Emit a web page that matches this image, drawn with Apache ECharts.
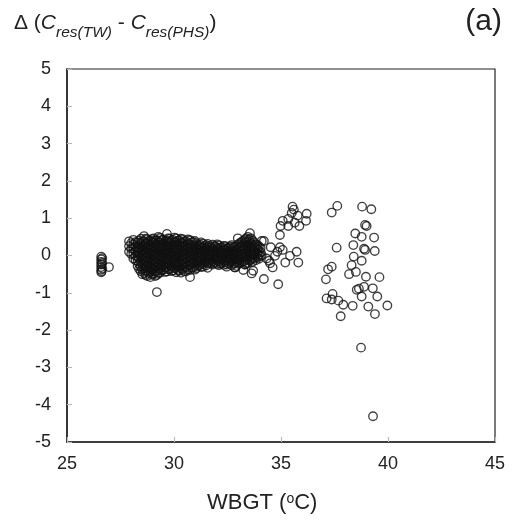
<!DOCTYPE html>
<html>
<head>
<meta charset="utf-8">
<script src="https://cdn.jsdelivr.net/npm/echarts@6/dist/echarts.min.js"></script>
<style>html,body{margin:0;padding:0;background:#fff}#c{width:513px;height:520px}</style>
</head>
<body>
<div id="c"></div>
<script>
// ---- axis settings ----
var xMin = 25, xMax = 45, xStep = 5;
var yMin = -5, yMax = 5, yStep = 1;
var xAxisTitle = 'WBGT (';
var panelLabel = '(a)';

// ---- group near 26.6 °C ----
var lowGroupX = [26.6, 26.6, 26.6, 26.6, 26.6, 26.6, 26.6, 26.65, 26.65, 26.65, 26.62, 26.96];
var lowGroupY = [-0.03, -0.1, -0.17, -0.24, -0.31, -0.38, -0.45, -0.07, -0.2, -0.35, -0.42, -0.31];

// ---- dense band 28-34 °C (column x, column y values) ----
var bandX = [27.9, 28.1, 28.3, 28.45, 28.6, 28.75, 28.9, 29.05, 29.2, 29.35, 29.5, 29.67, 29.8, 29.95,
  30.1, 30.25, 30.4, 30.55, 30.75, 30.9, 31.05, 31.2, 31.35, 31.5, 31.65, 31.8, 31.95, 32.1, 32.25,
  32.4, 32.55, 32.7, 32.85, 33.0, 33.15, 33.3, 33.45, 33.6, 33.75, 33.9, 34.05];
var bandY = [
  [0.38, 0.25, 0.1],
  [0.42, 0.3, 0.18, 0.05, -0.08],
  [0.35, 0.22, 0.12, -0.02, -0.15, -0.28],
  [0.45, 0.31, 0.2, 0.08, -0.05, -0.18, -0.3, -0.42],
  [0.52, 0.38, 0.26, 0.14, 0.03, -0.1, -0.22, -0.35, -0.47],
  [0.44, 0.33, 0.21, 0.09, -0.04, -0.16, -0.27, -0.4, -0.55],
  [0.4, 0.29, 0.17, 0.06, -0.06, -0.19, -0.31, -0.44, -0.58],
  [0.46, 0.34, 0.23, 0.11, 0.0, -0.12, -0.25, -0.37, -0.49],
  [0.41, 0.3, 0.18, 0.07, -0.05, -0.17, -0.29, -0.41, -0.52, -0.98],
  [0.47, 0.35, 0.24, 0.13, 0.02, -0.1, -0.22, -0.34, -0.46],
  [0.43, 0.32, 0.2, 0.09, -0.03, -0.14, -0.26, -0.38],
  [0.58, 0.4, 0.28, 0.16, 0.05, -0.07, -0.19, -0.31, -0.43],
  [0.45, 0.34, 0.22, 0.11, 0.0, -0.12, -0.24, -0.36],
  [0.42, 0.3, 0.18, 0.07, -0.05, -0.16, -0.28, -0.4],
  [0.46, 0.35, 0.24, 0.12, 0.01, -0.1, -0.22, -0.33, -0.45],
  [0.4, 0.29, 0.17, 0.06, -0.06, -0.18, -0.3, -0.41],
  [0.44, 0.33, 0.21, 0.1, -0.02, -0.13, -0.25, -0.37],
  [0.38, 0.27, 0.15, 0.04, -0.08, -0.2, -0.32, -0.43],
  [0.41, 0.3, 0.19, 0.08, -0.04, -0.15, -0.27, -0.39, -0.58],
  [0.36, 0.25, 0.13, 0.02, -0.1, -0.21, -0.33],
  [0.33, 0.22, 0.11, 0.0, -0.11, -0.22, -0.34],
  [0.3, 0.19, 0.08, -0.03, -0.14, -0.26],
  [0.32, 0.2, 0.1, -0.01, -0.12, -0.23, -0.3],
  [0.28, 0.17, 0.06, -0.05, -0.16, -0.27],
  [0.26, 0.15, 0.04, -0.06, -0.17],
  [0.29, 0.18, 0.07, -0.04, -0.15, -0.24],
  [0.24, 0.13, 0.03, -0.08, -0.19],
  [0.27, 0.16, 0.05, -0.06, -0.16, -0.26],
  [0.22, 0.12, 0.02, -0.09, -0.2],
  [0.25, 0.14, 0.04, -0.07, -0.18],
  [0.2, 0.1, 0.0, -0.1, -0.21],
  [0.28, 0.17, 0.06, -0.05, -0.16, -0.26],
  [0.23, 0.12, 0.02, -0.09, -0.2, -0.32],
  [0.3, 0.19, 0.08, -0.03, -0.12, -0.22],
  [0.36, 0.24, 0.13, 0.03, -0.07, -0.18],
  [0.42, 0.3, 0.18, 0.07, -0.04, -0.15, -0.24],
  [0.5, 0.38, 0.26, 0.14, 0.03, -0.08, -0.2],
  [0.46, 0.33, 0.21, 0.1, 0.0, -0.11],
  [0.35, 0.22, 0.12, 0.02, -0.09],
  [0.28, 0.17, 0.06, -0.05],
  [0.2, 0.09, -0.02]
];

// ---- second, interleaved set of columns in the dense band ----
var band2X = [28.0, 28.2, 28.37, 28.52, 28.68, 28.82, 28.97, 29.12, 29.27, 29.42, 29.58, 29.73, 29.88,
  30.02, 30.17, 30.32, 30.47, 30.65, 30.82, 30.97, 31.12, 31.27, 31.42, 31.57, 31.72, 31.87, 32.02,
  32.17, 32.32, 32.47, 32.62, 32.77, 32.92, 33.07, 33.22, 33.37, 33.52, 33.67, 33.82, 33.97];
var band2Y = [
  [0.33, 0.19, 0.04],
  [0.36, 0.24, 0.11, -0.01, -0.13],
  [0.4, 0.28, 0.16, 0.04, -0.09, -0.22, -0.36],
  [0.37, 0.25, 0.14, 0.02, -0.11, -0.24, -0.37, -0.5],
  [0.45, 0.32, 0.2, 0.08, -0.04, -0.16, -0.29, -0.42, -0.52],
  [0.39, 0.27, 0.15, 0.03, -0.1, -0.22, -0.34, -0.47],
  [0.44, 0.35, 0.23, 0.12, 0.0, -0.13, -0.25, -0.38, -0.51],
  [0.4, 0.28, 0.17, 0.05, -0.06, -0.18, -0.31, -0.43, -0.55],
  [0.5, 0.36, 0.24, 0.13, 0.01, -0.11, -0.23, -0.35, -0.47],
  [0.41, 0.29, 0.18, 0.07, -0.04, -0.16, -0.28, -0.4],
  [0.37, 0.26, 0.14, 0.03, -0.09, -0.2, -0.32, -0.44],
  [0.46, 0.34, 0.22, 0.1, -0.01, -0.13, -0.25, -0.37],
  [0.39, 0.28, 0.16, 0.05, -0.06, -0.18, -0.3, -0.42],
  [0.48, 0.36, 0.24, 0.13, 0.01, -0.1, -0.22, -0.34],
  [0.4, 0.29, 0.18, 0.06, -0.04, -0.16, -0.27, -0.39],
  [0.45, 0.34, 0.23, 0.11, 0.0, -0.12, -0.24, -0.35, -0.46],
  [0.38, 0.27, 0.15, 0.04, -0.07, -0.19, -0.31, -0.42],
  [0.43, 0.32, 0.21, 0.09, -0.02, -0.14, -0.26, -0.38],
  [0.35, 0.24, 0.13, 0.02, -0.09, -0.2, -0.32],
  [0.39, 0.28, 0.17, 0.05, -0.05, -0.16, -0.28, -0.38],
  [0.27, 0.16, 0.05, -0.06, -0.17, -0.28],
  [0.35, 0.24, 0.13, 0.02, -0.08, -0.19, -0.31],
  [0.25, 0.14, 0.04, -0.07, -0.18],
  [0.31, 0.21, 0.11, 0.0, -0.1, -0.21, -0.33],
  [0.22, 0.11, 0.01, -0.1, -0.21],
  [0.25, 0.14, 0.02, -0.09, -0.2],
  [0.3, 0.2, 0.09, -0.02, -0.12, -0.23],
  [0.21, 0.1, 0.0, -0.11, -0.22],
  [0.26, 0.16, 0.06, -0.04, -0.14, -0.25],
  [0.19, 0.08, -0.03, -0.13, -0.24],
  [0.24, 0.13, 0.03, -0.08, -0.18],
  [0.22, 0.11, 0.0, -0.11, -0.22],
  [0.27, 0.16, 0.05, -0.06, -0.17, -0.28],
  [0.33, 0.22, 0.11, 0.0, -0.1, -0.2],
  [0.39, 0.27, 0.16, 0.05, -0.05, -0.16],
  [0.46, 0.35, 0.23, 0.11, 0.0, -0.11, -0.22],
  [0.43, 0.31, 0.19, 0.08, -0.03, -0.14],
  [0.4, 0.28, 0.16, 0.05, -0.06, -0.17],
  [0.3, 0.19, 0.08, -0.03, -0.13],
  [0.24, 0.13, 0.02, -0.09]
];

// ---- scattered points (x, y) ----
var sparseX = [35.54, 35.6, 35.5, 35.78, 36.2, 36.17, 35.86, 35.64, 35.34, 35.08, 34.98, 35.34, 34.95,
  37.37, 37.63, 38.47, 37.6, 38.38, 38.4, 38.3, 38.5, 37.2, 37.37, 37.1, 38.18,
  35.73, 35.81, 35.42, 35.2, 35.08, 34.61, 34.44, 34.2, 34.87, 34.72, 34.83, 34.95, 34.52, 34.1, 34.2,
  33.55, 32.98, 33.7, 33.63, 33.24, 32.85, 32.46, 33.32, 34.49, 34.33, 34.1,
  38.79, 39.22, 38.93, 39.0, 38.77, 39.35, 38.88, 38.93, 39.38, 38.77, 38.97, 39.6, 38.88, 38.54, 38.64,
  39.29, 38.77, 39.5, 37.41, 37.13, 37.37, 37.68, 37.91, 38.35, 39.08, 39.97, 39.39, 37.79, 38.74, 39.3];
var sparseY = [1.31, 1.23, 1.14, 1.07, 1.12, 0.93, 0.79, 0.88, 0.98, 0.93, 0.79, 0.79, 0.55,
  1.15, 1.33, 0.59, 0.21, 0.28, -0.03, -0.26, -0.44, -0.37, -0.3, -0.64, -0.5,
  0.1, -0.19, -0.01, -0.19, 0.15, -0.32, -0.14, -0.63, -0.77, -0.01, 0.1, 0.22, 0.22, 0.39, 0.39,
  0.6, 0.46, -0.41, -0.48, -0.39, -0.32, -0.3, -0.24, -0.21, -0.08, 0.01,
  1.31, 1.24, 0.82, 0.79, 0.5, 0.48, 0.18, 0.15, 0.12, -0.14, -0.57, -0.58, -0.84, -0.92, -0.89,
  -0.88, -1.1, -1.1, -1.03, -1.15, -1.18, -1.21, -1.32, -1.35, -1.37, -1.34, -1.57, -1.63, -2.47, -4.31];

// ---- build data ----
var pts = [];
for (var i = 0; i < lowGroupX.length; i++) pts.push([lowGroupX[i], lowGroupY[i]]);
for (var c = 0; c < bandX.length; c++) {
  for (var k = 0; k < bandY[c].length; k++) pts.push([bandX[c], bandY[c][k]]);
}
for (var c2 = 0; c2 < band2X.length; c2++) {
  for (var k2 = 0; k2 < band2Y[c2].length; k2++) pts.push([band2X[c2], band2Y[c2][k2]]);
}
for (var j = 0; j < sparseX.length; j++) pts.push([sparseX[j], sparseY[j]]);

var chart = echarts.init(document.getElementById('c'), null, {renderer: 'canvas'});
var FONT = 'Liberation Sans, Arial, sans-serif';
chart.setOption({
  animation: false,
  backgroundColor: '#fff',
  grid: {left: 67, right: 18, top: 69, bottom: 78, show: true, borderColor: '#222', borderWidth: 1.2, backgroundColor: 'transparent'},
  xAxis: {
    type: 'value', min: xMin, max: xMax, interval: xStep,
    axisLine: {show: true, onZero: false, lineStyle: {color: '#222', width: 1.5}},
    axisTick: {show: true, inside: true, length: 5, lineStyle: {color: '#bbb', width: 1.2}},
    axisLabel: {color: '#222', fontSize: 18, fontFamily: FONT, margin: 13},
    splitLine: {show: false}
  },
  yAxis: {
    type: 'value', min: yMin, max: yMax, interval: yStep,
    axisLine: {show: true, onZero: false, lineStyle: {color: '#222', width: 1.5}},
    axisTick: {show: true, inside: true, length: 5, lineStyle: {color: '#bbb', width: 1.2}},
    axisLabel: {color: '#222', fontSize: 18, fontFamily: FONT, margin: 16},
    splitLine: {show: false}
  },
  series: [{
    type: 'scatter',
    data: pts,
    symbol: 'circle',
    symbolSize: 8.5,
    itemStyle: {color: 'rgba(0,0,0,0)', borderColor: '#111', borderWidth: 1.35},
    emphasis: {disabled: true}
  }],
  graphic: [
    {
      type: 'text', left: 14, top: 13,
      style: {
        text: '{m|Δ (}{i|C}{s|res(TW)}{m| - }{i|C}{s|res(PHS)}{m|)}',
        rich: {
          m: {fontSize: 21, fontFamily: FONT, fill: '#222', lineHeight: 24, verticalAlign: 'top'},
          i: {fontSize: 21, fontFamily: FONT, fontStyle: 'italic', fill: '#222', lineHeight: 24, verticalAlign: 'top'},
          s: {fontSize: 15.5, fontFamily: FONT, fontStyle: 'italic', fill: '#222', lineHeight: 15, padding: [12, 0, 0, 0], verticalAlign: 'top'}
        }
      }
    },
    {
      type: 'text', right: 11, top: 7,
      style: {text: panelLabel, fontSize: 30, fontFamily: FONT, fill: '#222'}
    },
    {
      type: 'text', left: 207, top: 492,
      style: {
        text: '{m|' + xAxisTitle + '}{u|o}{m|C)}',
        rich: {
          m: {fontSize: 22, fontFamily: FONT, fill: '#222', lineHeight: 26, verticalAlign: 'top'},
          u: {fontSize: 14, fontFamily: FONT, fill: '#222', lineHeight: 4, padding: [0, 0, 0, 0], verticalAlign: 'top'}
        }
      }
    }
  ]
});
</script>
</body>
</html>
